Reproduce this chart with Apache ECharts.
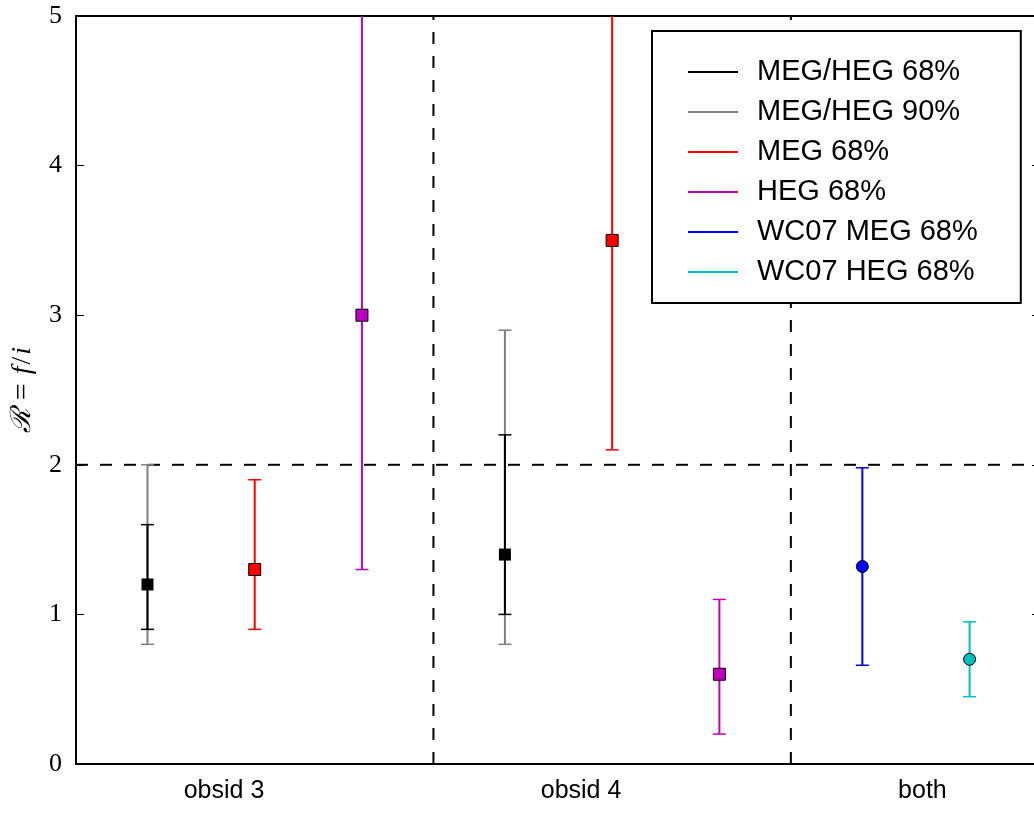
<!DOCTYPE html>
<html>
<head>
<meta charset="utf-8">
<script src="https://cdn.jsdelivr.net/npm/echarts@6/dist/echarts.min.js"></script>
<style>html,body{margin:0;padding:0;background:#fff}#c{width:1034px;height:813px}</style>
</head>
<body>
<div id="c"></div>
<script>
// categories and their label positions on the x axis (region units)
const categories = ['obsid 3', 'obsid 4', 'both'];
const labelPos = [0.414, 1.413, 2.368];
const yTicks = [0, 1, 2, 3, 4, 5];
const dashedX = [1, 2];
const dashedY = [2];

// each point: [x position, value, lower bound, upper bound]
const megHeg68 = [[0.2, 1.2, 0.9, 1.6], [1.2, 1.4, 1.0, 2.2]];
const megHeg90 = [[0.2, 1.2, 0.8, 2.0], [1.2, 1.4, 0.8, 2.9]];
const meg68    = [[0.5, 1.3, 0.9, 1.9], [1.5, 3.5, 2.1, 5.6]];
const heg68    = [[0.8, 3.0, 1.3, 5.6], [1.8, 0.6, 0.2, 1.1]];
const wc07Meg  = [[2.2, 1.32, 0.66, 1.98]];
const wc07Heg  = [[2.5, 0.70, 0.45, 0.95]];

const names = ['MEG/HEG 68%', 'MEG/HEG 90%', 'MEG 68%', 'HEG 68%', 'WC07 MEG 68%', 'WC07 HEG 68%'];
const colors = ['#000000', '#808080', '#ff0000', '#bf00bf', '#0000ff', '#00bfbf'];

function errRender(params, api) {
  const x = api.value(0), lo = api.value(2), hi = api.value(3);
  const a = api.coord([x, lo]), b = api.coord([x, hi]);
  const c = api.visual('color');
  const hw = 6.5;
  return {
    type: 'group',
    children: [
      {type: 'line', shape: {x1: a[0], y1: a[1], x2: b[0], y2: b[1]}, style: {stroke: c, lineWidth: 2}},
      {type: 'line', shape: {x1: a[0] - hw, y1: a[1], x2: a[0] + hw, y2: a[1]}, style: {stroke: c, lineWidth: 1.5}},
      {type: 'line', shape: {x1: b[0] - hw, y1: b[1], x2: b[0] + hw, y2: b[1]}, style: {stroke: c, lineWidth: 1.5}}
    ]
  };
}

const errSets = [megHeg90, megHeg68, meg68, heg68, wc07Meg, wc07Heg];
const errNames = [names[1], names[0], names[2], names[3], names[4], names[5]];
const errColors = [colors[1], colors[0], colors[2], colors[3], colors[4], colors[5]];

const series = [];
dashedX.forEach(function (v) {
  series.push({type: 'line', silent: true, symbol: 'none', z: 1,
    data: [[v, 0], [v, 5]],
    lineStyle: {color: '#000', width: 2, type: [12, 12]}});
});
dashedY.forEach(function (v) {
  series.push({type: 'line', silent: true, symbol: 'none', z: 1,
    data: [[0, v], [3, v]],
    lineStyle: {color: '#000', width: 2, type: [12, 12]}});
});
errSets.forEach(function (set, i) {
  series.push({type: 'custom', name: errNames[i], renderItem: errRender, clip: true, z: 2 + i,
    itemStyle: {color: errColors[i]}, encode: {x: 0, y: [1, 2, 3]}, data: set});
});
const markerSets = [
  {d: megHeg68, c: colors[0], s: 'rect', b: 0},
  {d: meg68, c: colors[2], s: 'rect', b: 1},
  {d: heg68, c: colors[3], s: 'rect', b: 1},
  {d: wc07Meg, c: colors[4], s: 'circle', b: 1},
  {d: wc07Heg, c: colors[5], s: 'circle', b: 1}
];
markerSets.forEach(function (m, i) {
  series.push({type: 'scatter', name: 'pts' + i, z: 20, symbol: m.s, symbolSize: 12,
    itemStyle: {color: m.c, borderColor: '#000', borderWidth: m.b, opacity: 1},
    data: m.d.map(function (p) { return [p[0], p[1]]; })});
});

const chart = echarts.init(document.getElementById('c'), null, {renderer: 'canvas'});
chart.setOption({
  animation: false,
  backgroundColor: '#fff',
  grid: {left: 76, top: 16, width: 964, height: 748, containLabel: false, outerBoundsMode: 'none'},
  xAxis: [{
    type: 'value', min: 0, max: 2.697, position: 'bottom',
    axisLine: {show: true, onZero: false, lineStyle: {color: '#000', width: 2}},
    axisTick: {show: false},
    splitLine: {show: false},
    axisLabel: {
      customValues: labelPos, margin: 15,
      fontFamily: 'Liberation Sans', fontSize: 25, color: '#000',
      formatter: function (v) { const i = labelPos.indexOf(v); return i >= 0 ? categories[i] : ''; }
    }
  }, {
    type: 'value', min: 0, max: 2.697, position: 'top',
    axisLine: {show: true, onZero: false, lineStyle: {color: '#000', width: 2}},
    axisTick: {show: false}, axisLabel: {show: false}, splitLine: {show: false}
  }],
  yAxis: [{
    type: 'value', min: 0, max: 5, interval: 1, position: 'left',
    axisLine: {show: true, onZero: false, lineStyle: {color: '#000', width: 2}},
    axisTick: {show: true, inside: true, length: 8, lineStyle: {color: '#000', width: 1}},
    splitLine: {show: false},
    axisLabel: {customValues: yTicks, margin: 14, fontFamily: 'Liberation Serif', fontSize: 26, color: '#000'},
    name: '{s|\u211B}{n|=}{i|f}{m|/}{i|i}',
    nameLocation: 'middle', nameRotate: 90, nameGap: 33,
    nameTextStyle: {
      rich: {
        s: {fontFamily: 'DejaVu Serif', fontStyle: 'italic', fontSize: 28, color: '#000'},
        n: {fontFamily: 'Liberation Serif', fontSize: 30, color: '#000', padding: [0, 9, 0, 9]},
        m: {fontFamily: 'Liberation Serif', fontSize: 28, color: '#000', padding: [0, 2, 0, 2]},
        i: {fontFamily: 'Liberation Serif', fontStyle: 'italic', fontSize: 28, color: '#000'}
      }
    }
  }, {
    type: 'value', min: 0, max: 5, interval: 1, position: 'right',
    axisLine: {show: true, onZero: false, lineStyle: {color: '#000', width: 2}},
    axisTick: {show: true, inside: true, length: 8, lineStyle: {color: '#000', width: 1}},
    axisLabel: {show: false}, splitLine: {show: false}
  }],
  legend: {
    orient: 'vertical', left: 652, top: 31, z: 50,
    backgroundColor: '#fff', borderColor: '#000', borderWidth: 2, borderRadius: 0,
    padding: [26, 43, 16, 36],
    itemWidth: 50, itemHeight: 2, itemGap: 10, selectedMode: false,
    textStyle: {fontFamily: 'Liberation Sans', fontSize: 29, color: '#000', lineHeight: 30, padding: [0, 0, 0, 14]},
    data: names.map(function (n, i) {
      return {name: n, icon: 'rect', itemStyle: {color: colors[i], borderWidth: 0}};
    })
  },
  series: series
});
</script>
</body>
</html>
